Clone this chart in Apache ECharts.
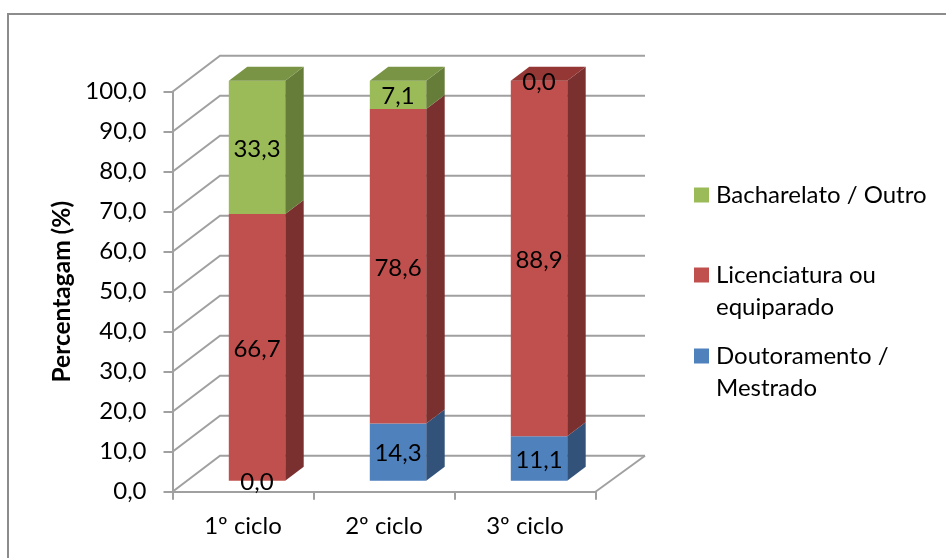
<!DOCTYPE html>
<html>
<head>
<meta charset="utf-8">
<style>html,body{margin:0;padding:0;background:#fff}#chart{width:946px;height:558px}</style>
<script src="https://cdn.jsdelivr.net/npm/echarts@6/dist/echarts.min.js"></script>
</head>
<body>
<div id="chart"></div>
<script>
const categories = ['1º ciclo', '2º ciclo', '3º ciclo'];
const doutoramento = [0.0, 14.3, 11.1];
const licenciatura = [66.7, 78.6, 88.9];
const bacharelato = [33.3, 7.1, 0.0];
const valueTicks = [0, 10, 20, 30, 40, 50, 60, 70, 80, 90, 100];

const layers = [
  { name: 'Doutoramento / Mestrado', values: doutoramento, front: '#4F81BD', side: '#32527A', top: '#3F6897' },
  { name: 'Licenciatura ou equiparado', values: licenciatura, front: '#C0504D', side: '#7A302E', top: '#953735' },
  { name: 'Bacharelato / Outro', values: bacharelato, front: '#9BBB59', side: '#667D3A', top: '#7A9445' }
];

const FONT = 'Lato, Carlito, sans-serif';
const GRID_LINE = '#A0A0A0';

// Oblique projection used for the fake depth, in pixels
const WALL_DX = 47.5, WALL_DY = -36;
const WALL_RIGHT_DX = 49.5;
const BAR_SHIFT_X = 14, BAR_SHIFT_Y = -11;
const BAR_DX = 18.5, BAR_DY = -14;
const BAR_WIDTH_RATIO = 0.4;

const fmt = v => v.toFixed(1).replace('.', ',');

function renderWalls(params, api) {
  const cs = params.coordSys;
  const y = api.coord([0, api.value(0)])[1];
  const left = cs.x, right = cs.x + cs.width;
  const children = [{
    type: 'polyline',
    shape: { points: [[left, y], [left + WALL_DX, y + WALL_DY], [right + WALL_RIGHT_DX, y + WALL_DY]] },
    style: { stroke: GRID_LINE, lineWidth: 2, fill: null }
  }];
  if (api.value(0) === 0) {
    children.push({
      type: 'line',
      shape: { x1: right, y1: y, x2: right + WALL_RIGHT_DX, y2: y + WALL_DY },
      style: { stroke: GRID_LINE, lineWidth: 2 }
    });
  }
  return { type: 'group', children };
}

// Front, side and (for the uppermost block) lid of one stacked block
function renderBlock(layer) {
  return function (params, api) {
    const cat = api.value(0), low = api.value(1), high = api.value(2), isTop = api.value(3);
    const bw = api.size([1, 0])[0] * BAR_WIDTH_RATIO;
    const p0 = api.coord([cat, low]), p1 = api.coord([cat, high]);
    const x0 = p0[0] + BAR_SHIFT_X - bw / 2, x1 = x0 + bw;
    const yb = p0[1] + BAR_SHIFT_Y, yt = p1[1] + BAR_SHIFT_Y;
    const children = [];
    if (high > low) {
      children.push({
        type: 'polygon',
        shape: { points: [[x1, yb], [x1 + BAR_DX, yb + BAR_DY], [x1 + BAR_DX, yt + BAR_DY], [x1, yt]] },
        style: { fill: layer.side }
      }, {
        type: 'rect',
        shape: { x: x0, y: yt, width: bw, height: yb - yt },
        style: { fill: layer.front }
      });
      if (isTop) {
        children.push({
          type: 'polygon',
          shape: { points: [[x0, yt], [x0 + BAR_DX, yt + BAR_DY], [x1 + BAR_DX, yt + BAR_DY], [x1, yt]] },
          style: { fill: layer.top }
        });
      }
    }
    return { type: 'group', children };
  };
}

// Value labels sit in their own series so that no block can paint over them
function renderBlockLabel(params, api) {
  const cat = api.value(0), low = api.value(1), high = api.value(2);
  const p0 = api.coord([cat, low]), p1 = api.coord([cat, high]);
  return {
    type: 'text',
    style: {
      text: fmt(api.value(3)),
      x: p0[0] + BAR_SHIFT_X,
      y: (p0[1] + p1[1]) / 2 + BAR_SHIFT_Y + 1.5,
      align: 'center', verticalAlign: 'middle', fill: '#000', font: '24px ' + FONT
    }
  };
}

// Cumulative base of each block, plus a flag for the block that carries the lid
const running = categories.map(() => 0);
const labelRows = [];
const blockSeries = layers.map((layer, li) => {
  const data = categories.map((c, i) => {
    const low = running[i], high = low + layer.values[i];
    running[i] = high;
    const above = layers.slice(li + 1).some(l => l.values[i] > 0);
    labelRows.push([i, low, high, layer.values[i]]);
    return [i, low, high, above ? 0 : 1];
  });
  return {
    type: 'custom',
    name: layer.name,
    z: 3 + li,
    coordinateSystem: 'cartesian2d',
    itemStyle: { color: layer.front },
    encode: { x: 0, y: [1, 2] },
    renderItem: renderBlock(layer),
    data
  };
});

function legendEntry(name, top, text) {
  return {
    data: [name],
    left: 694,
    top,
    padding: 0,
    itemWidth: 15,
    itemHeight: 15,
    itemGap: 0,
    icon: 'rect',
    selectedMode: false,
    formatter: () => text,
    textStyle: { fontFamily: FONT, fontSize: 24, color: '#000', lineHeight: 32, padding: [0, 0, 0, 2] }
  };
}

const chart = echarts.init(document.getElementById('chart'), null, { renderer: 'canvas' });
chart.setOption({
  animation: false,
  backgroundColor: '#fff',
  graphic: [{
    type: 'polyline',
    silent: true,
    shape: { points: [[8, 558], [8, 14], [946, 14]] },
    style: { stroke: '#8C8C8C', lineWidth: 2, fill: null }
  }],
  grid: { left: 172.5, right: 350.5, top: 91.7, bottom: 66.3 },
  xAxis: {
    type: 'category',
    data: categories,
    axisLine: { lineStyle: { color: GRID_LINE, width: 2 } },
    axisTick: { show: true, length: 8, lineStyle: { color: GRID_LINE, width: 2 } },
    axisLabel: { color: '#000', fontFamily: FONT, fontSize: 24, margin: 23 }
  },
  yAxis: {
    type: 'value',
    min: 0,
    max: 100,
    interval: 10,
    name: 'Percentagam (%)',
    nameLocation: 'middle',
    nameGap: 98,
    nameRotate: 90,
    nameTextStyle: { color: '#000', fontFamily: FONT, fontSize: 24.5, fontWeight: 'bold' },
    axisLine: { show: true, lineStyle: { color: GRID_LINE, width: 2 } },
    axisTick: { show: true, length: 9, lineStyle: { color: GRID_LINE, width: 2 } },
    axisLabel: { color: '#000', fontFamily: FONT, fontSize: 24, margin: 26, formatter: v => fmt(v) },
    splitLine: { show: false }
  },
  legend: [
    legendEntry('Bacharelato / Outro', 179, 'Bacharelato / Outro'),
    legendEntry('Licenciatura ou equiparado', 227, '\nLicenciatura ou\nequiparado'),
    legendEntry('Doutoramento / Mestrado', 308, '\nDoutoramento /\nMestrado')
  ],
  series: [{
    type: 'custom',
    z: 1,
    silent: true,
    coordinateSystem: 'cartesian2d',
    encode: { y: 0 },
    renderItem: renderWalls,
    data: valueTicks.map(v => [v])
  }].concat(blockSeries, [{
    type: 'custom',
    z: 10,
    silent: true,
    coordinateSystem: 'cartesian2d',
    encode: { x: 0, y: [1, 2] },
    renderItem: renderBlockLabel,
    data: labelRows
  }])
});
</script>
</body>
</html>
